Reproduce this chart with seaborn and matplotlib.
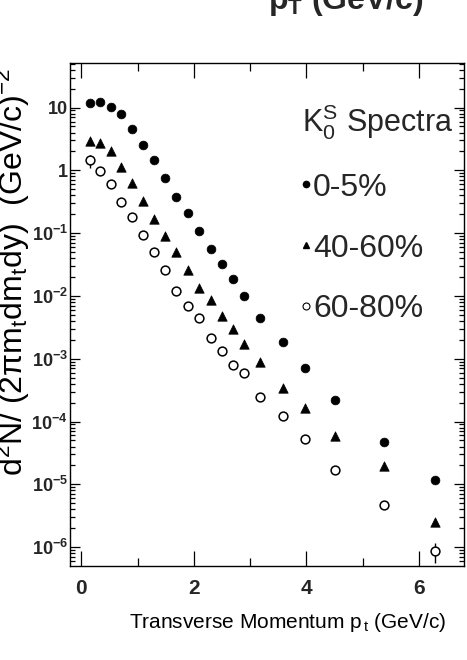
import numpy as np
import pandas as pd
import matplotlib
matplotlib.use("Agg")
import matplotlib.pyplot as plt
from matplotlib import font_manager
from matplotlib.ticker import LogLocator, FixedLocator, FuncFormatter, NullFormatter
from matplotlib.lines import Line2D
import seaborn as sns

# K0S transverse-momentum spectra for three centrality classes
pt = [0.15, 0.33, 0.52, 0.71, 0.90, 1.10, 1.30, 1.49, 1.69, 1.89, 2.10,
      2.30, 2.50, 2.69, 2.89, 3.17, 3.58, 3.98, 4.51, 5.38, 6.28]
yield_0_5 = [11.7, 12.4, 10.4, 7.9, 4.6, 2.56, 1.44, 0.77, 0.38, 0.21, 0.108,
             0.0565, 0.0327, 0.0184, 0.0099, 0.00454, 0.00186, 7.1e-4, 2.21e-4,
             4.7e-5, 1.19e-5]
yield_40_60 = [2.96, 2.72, 2.06, 1.13, 0.63, 0.33, 0.171, 0.0896, 0.0499,
               0.0259, 0.0136, 0.00865, 0.00482, 0.00303, 0.00171, 8.8e-4,
               3.43e-4, 1.65e-4, 5.9e-5, 1.93e-5, 2.53e-6]
yield_60_80 = [1.44, 0.964, 0.608, 0.31, 0.18, 0.092, 0.0499, 0.0259, 0.0122,
               0.00693, 0.00448, 0.00213, 0.00131, 8.0e-4, 6.0e-4, 2.5e-4,
               1.22e-4, 5.2e-5, 1.69e-5, 4.65e-6, 8.6e-7]
err_60_80 = [0.35, 0, 0, 0, 0, 0, 0, 0, 0, 0, 0,
             0, 0, 0, 0, 0, 0, 0, 0, 0, 3.0e-7]
centrality_labels = ["0-5%", "40-60%", "60-80%"]
x_ticks = [0, 2, 4, 6]

sns.set_theme(style="ticks")
names = {f.name for f in font_manager.fontManager.ttflist}
NARROW = "Liberation Sans Narrow" if "Liberation Sans Narrow" in names else "Liberation Sans"
plt.rcParams["font.family"] = ["Liberation Sans", "DejaVu Sans"]
plt.rcParams["mathtext.fontset"] = "custom"
plt.rcParams["mathtext.rm"] = "Liberation Sans"
plt.rcParams["mathtext.it"] = "Liberation Sans"
plt.rcParams["mathtext.bf"] = "Liberation Sans:bold"

df = pd.DataFrame({
    "pt": pt * 3,
    "yield": yield_0_5 + yield_40_60 + yield_60_80,
    "centrality": [c for c in centrality_labels for _ in pt],
})

fig = plt.figure(figsize=(4.67, 6.60), dpi=100)
ax = fig.add_axes([70 / 467, 1 - 566 / 660, 394 / 467, 503 / 660])

styles = {
    "0-5%": dict(marker="o", color="black", edgecolor="black", s=40, linewidth=0.5),
    "40-60%": dict(marker="^", color="black", edgecolor="black", s=46, linewidth=0.5),
    "60-80%": dict(marker="o", color="white", edgecolor="black", s=40, linewidth=1.1),
}

d3 = df[df["centrality"] == "60-80%"]
ax.errorbar(d3["pt"], d3["yield"], yerr=err_60_80, fmt="none",
            ecolor="black", elinewidth=1.0, capsize=0, zorder=1)

for lab in centrality_labels:
    sub = df[df["centrality"] == lab]
    sns.scatterplot(data=sub, x="pt", y="yield", ax=ax, legend=False,
                    zorder=3, **styles[lab])

ax.set_yscale("log")
ax.set_xlim(-0.2, 6.8)
ax.set_ylim(10 ** -6.30, 10 ** 1.71)

# ticks inside on all four sides
ax.xaxis.set_major_locator(FixedLocator(x_ticks))
ax.xaxis.set_minor_locator(FixedLocator([1, 3, 5]))
ax.yaxis.set_major_locator(LogLocator(base=10, numticks=30))
ax.yaxis.set_minor_locator(LogLocator(base=10, subs=np.arange(2, 10), numticks=60))
ax.yaxis.set_minor_formatter(NullFormatter())


def decade_label(v, pos):
    e = int(round(np.log10(v)))
    if e == 1:
        return "10"
    if e == 0:
        return "1"
    return r"$\mathbf{10^{-%d}}$" % (-e)


ax.yaxis.set_major_formatter(FuncFormatter(decade_label))
ax.tick_params(axis="both", which="both", direction="in", top=True, right=True,
               color="black", width=0.9)
ax.tick_params(axis="x", which="major", length=11, pad=9, labelsize=15)
ax.tick_params(axis="x", which="minor", length=6)
ax.tick_params(axis="y", which="major", length=7.5, pad=1.5, labelsize=13)
ax.tick_params(axis="y", which="minor", length=3.8)
for lbl in ax.get_xticklabels() + ax.get_yticklabels():
    lbl.set_fontweight("bold")
for sp in ax.spines.values():
    sp.set_linewidth(1.0)
    sp.set_color("black")

ax.set_xlabel(r"Transverse Momentum p$_{\,t}$ (GeV/c)", fontsize=15,
              family=[NARROW, "DejaVu Sans"], color="black")
ax.xaxis.set_label_coords(0.553, -0.113)
ax.xaxis.label.set_verticalalignment("center")
ax.set_ylabel(r"d$^{2}$N/ (2$\pi$m$_{t}$dm$_{t}$dy)  (GeV/c)$^{-2}$", fontsize=23,
              family=[NARROW, "DejaVu Sans"], color="black")
ax.yaxis.set_label_coords(-0.120, 0.584)
ax.yaxis.label.set_verticalalignment("baseline")

handles = [
    Line2D([], [], linestyle="none", marker="o", markersize=4.5,
           markerfacecolor="black", markeredgecolor="black"),
    Line2D([], [], linestyle="none", marker="^", markersize=5,
           markerfacecolor="black", markeredgecolor="black"),
    Line2D([], [], linestyle="none", marker="o", markersize=5,
           markerfacecolor="white", markeredgecolor="black", markeredgewidth=0.8),
]
leg = ax.legend(handles, centrality_labels, title=r"K$_{0}^{S}$ Spectra",
                loc="upper left", bbox_to_anchor=(0.590, 0.923),
                frameon=False, fontsize=23, title_fontsize=22,
                handlelength=0.25, handletextpad=0.08, labelspacing=0.97,
                borderpad=0.0, borderaxespad=0.0, alignment="left")

fig.text(268 / 467, 1 - 9 / 660, r"p$_{\mathbf{T}}$ (GeV/c)", fontsize=23,
         fontweight="bold", va="baseline", ha="left")

fig.savefig("out.png", dpi=100, facecolor="white")
